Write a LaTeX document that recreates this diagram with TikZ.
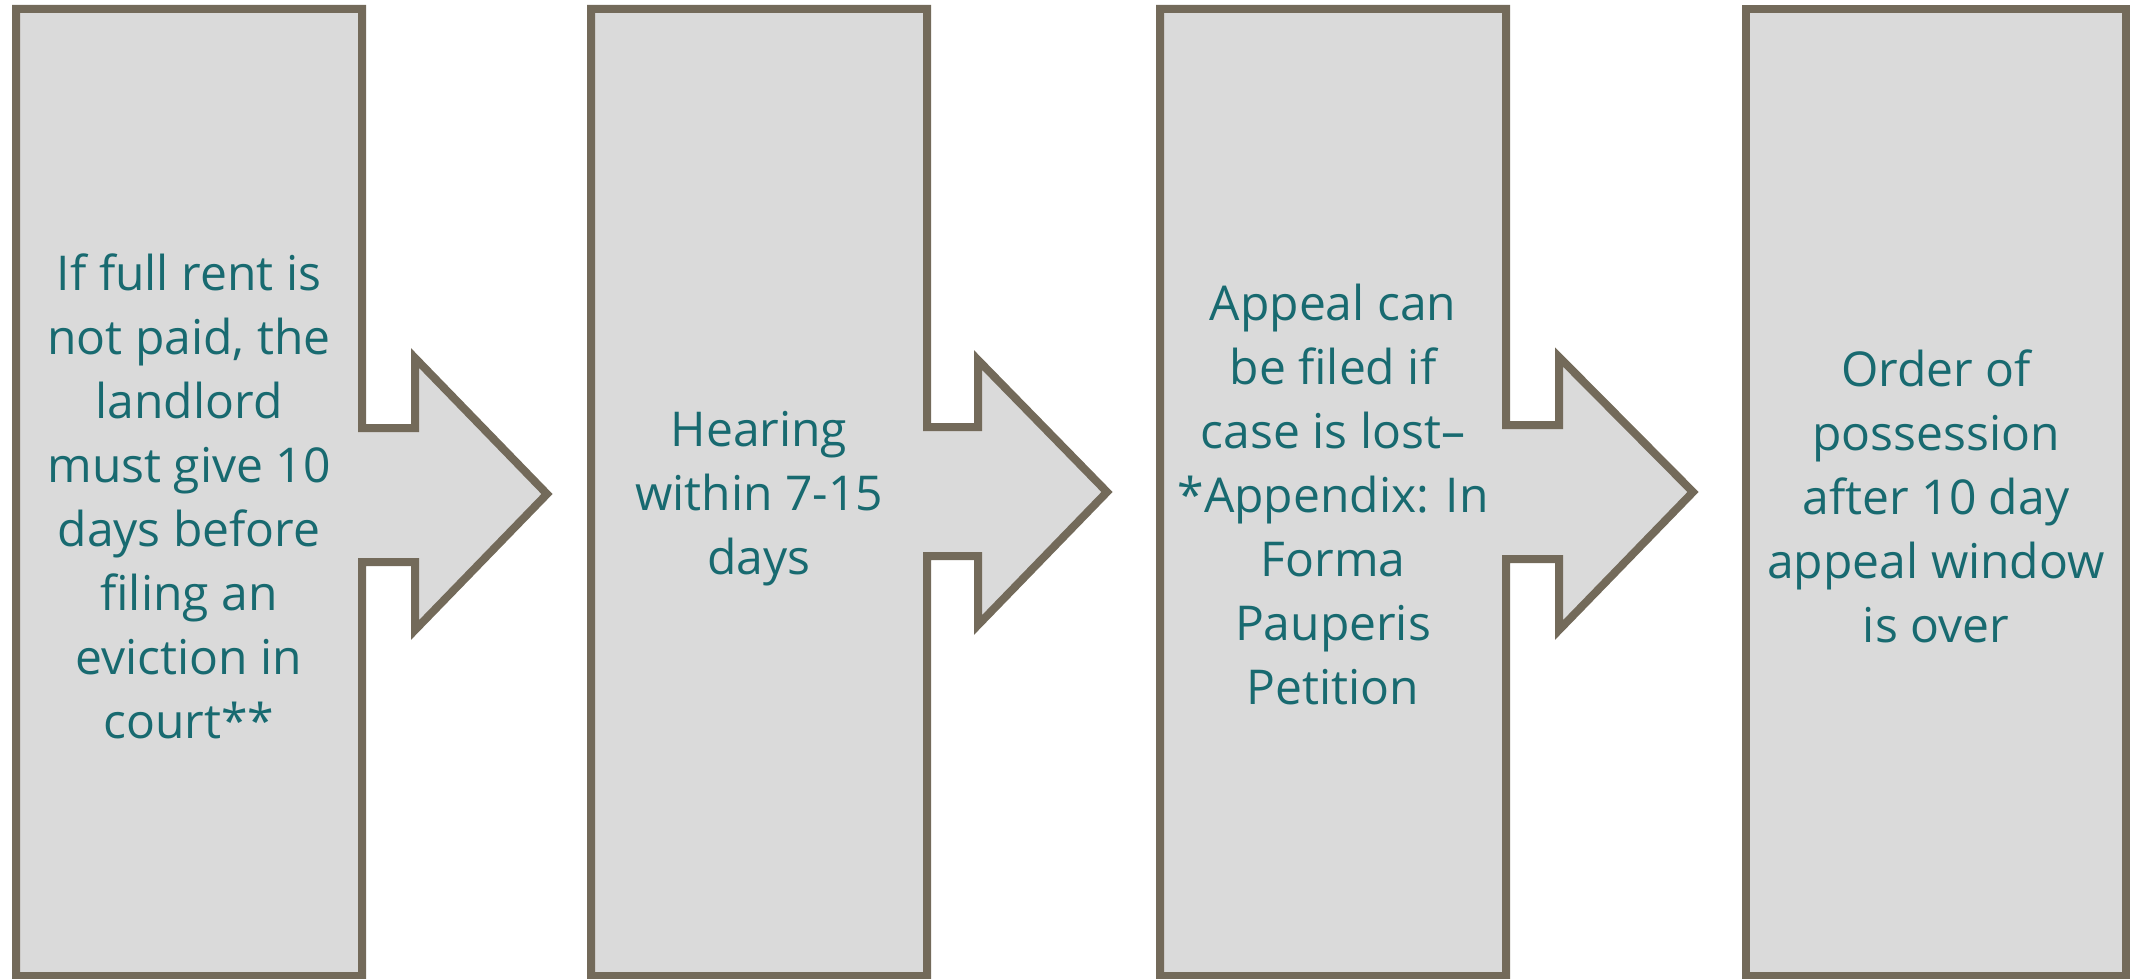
\documentclass[tikz,border=0pt]{standalone}
\usepackage{fontspec}
\setmainfont{Open Sans}
\definecolor{edge}{RGB}{115,106,90}
\definecolor{boxfill}{RGB}{218,218,218}
\definecolor{txt}{RGB}{24,106,112}
\begin{document}
\begin{tikzpicture}[x=1pt,y=-1pt,
  shapebox/.style={draw=edge,fill=boxfill,line width=8pt,miter limit=10},
  label/.style={text=txt,align=center,font=\fontsize{48}{64}\selectfont,inner sep=0pt}]
\useasboundingbox (0,0) rectangle (2138,979);
% shape 1
\draw[shapebox] (16,9) -- (362,9) -- (362,428) -- (415,428) -- (415,358) -- (547,494) -- (415,630) -- (415,562) -- (362,562) -- (362,976) -- (16,976) -- cycle;
% shape 2
\draw[shapebox] (591,9) -- (927,9) -- (927,427) -- (978,427) -- (978,360) -- (1107,492) -- (978,625) -- (978,556) -- (927,556) -- (927,976) -- (591,976) -- cycle;
% shape 3
\draw[shapebox] (1160,9) -- (1506,9) -- (1506,425) -- (1559,425) -- (1559,357) -- (1693,492) -- (1559,630) -- (1559,559) -- (1506,559) -- (1506,976) -- (1160,976) -- cycle;
% shape 4
\draw[shapebox] (1746,9) rectangle (2126,976);
\node[label] (t1) at (189,496) {If full rent is\\not paid, the\\landlord\\must give 10\\days before\\filing an\\eviction in\\court**};
\node[label] (t2) at (759,499) {Hearing\\within 7-15\\days};
\node[label] (t3) at (1333,494) {Appeal can\\be filed if\\case is lost–\\*Appendix: In\\Forma\\Pauperis\\Petition};
\node[label] (t4) at (1936,496) {Order of\\possession\\after 10 day\\appeal window\\is over};
\end{tikzpicture}
\end{document}
